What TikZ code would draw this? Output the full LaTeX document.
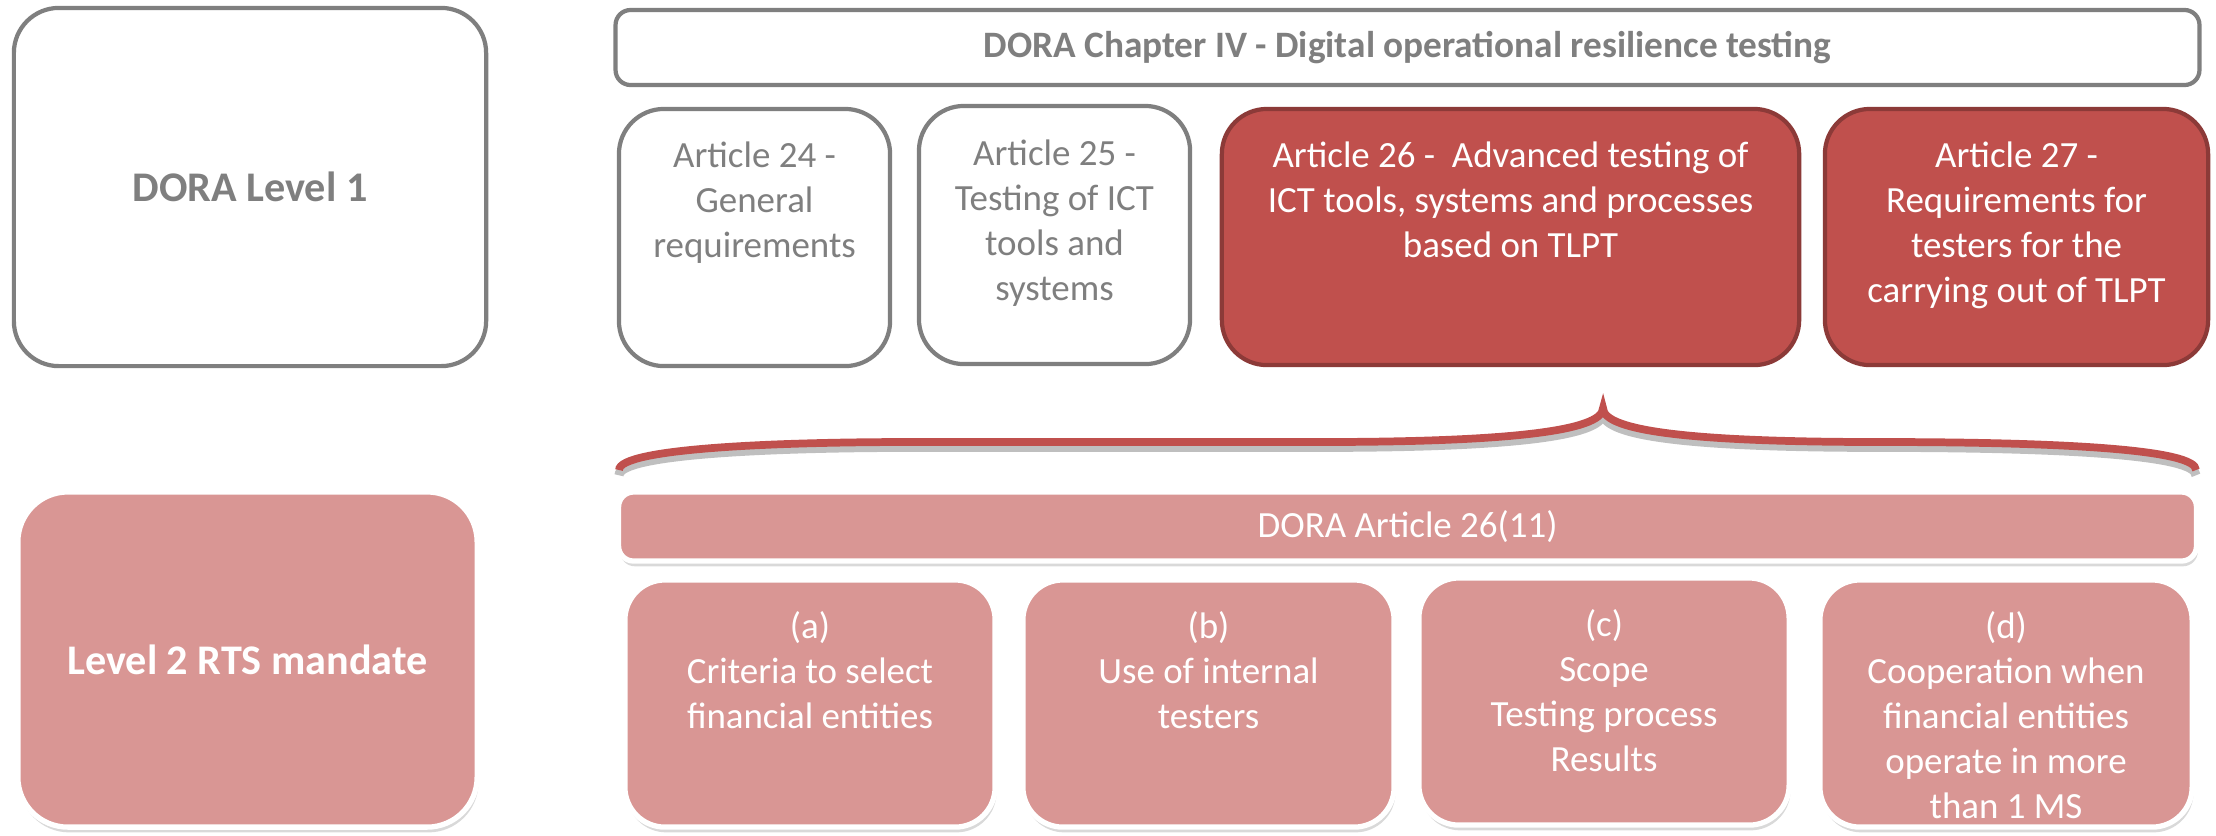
\documentclass[tikz,border=0pt]{standalone}
\usepackage{fontspec}
\setmainfont{Carlito}
\usetikzlibrary{positioning,shadows}
\definecolor{dgray}{HTML}{7F7F7F}
\definecolor{dred}{HTML}{C0504D}
\definecolor{dredline}{HTML}{8C3A38}
\definecolor{dpink}{HTML}{D99694}

\tikzset{
 graybox/.style={draw=dgray, line width=1.2pt, fill=white, rounded corners=0.45cm},
 redbox/.style={draw=dredline, line width=1.2pt, fill=dred, rounded corners=0.45cm},
 pinkbox/.style={draw=white, line width=1.5pt, fill=dpink, rounded corners=0.4cm,
   drop shadow={opacity=0.3, shadow xshift=0.4pt, shadow yshift=-1.5pt}},
 gtxt/.style={text=dgray, align=center, inner sep=0pt, font=\fontsize{10.5}{12.8}\selectfont},
 wtxt/.style={text=white, align=center, inner sep=0pt, font=\fontsize{10.5}{12.8}\selectfont}
}

\begin{document}
\begin{tikzpicture}[x=0.01cm,y=-0.01cm]
\useasboundingbox (0,0) rectangle (2216,835);

% level 1
\node[graybox, minimum width=4.72cm, minimum height=3.58cm] (lvl1) at (250,187) {};
\node[gtxt, font=\fontsize{12}{14}\selectfont\bfseries] at (lvl1) {DORA Level 1};

\node[graybox, rounded corners=0.15cm, minimum width=15.83cm, minimum height=0.75cm] (chap) at (1407.5,47.5) {};
\node[gtxt, font=\fontsize{10.6}{13}\selectfont\bfseries] at (chap) {DORA Chapter IV - Digital operational resilience testing};

\node[graybox, minimum width=2.71cm, minimum height=2.57cm] (art24) at (754.5,237.5) {};
\node[gtxt, below=0.34cm of art24.north] {Article 24 -\\General\\requirements};
\node[graybox, minimum width=2.71cm, minimum height=2.58cm] (art25) at (1054.5,235) {};
\node[gtxt, below=0.35cm of art25.north] {Article 25 -\\Testing of ICT\\tools and\\systems};
\node[redbox, minimum width=5.77cm, minimum height=2.56cm] (art26) at (1510.5,237) {};
\node[wtxt, below=0.34cm of art26.north] {Article 26 -~ Advanced testing of\\ICT tools, systems and processes\\based on TLPT};
\node[redbox, minimum width=3.83cm, minimum height=2.56cm] (art27) at (2016.5,237) {};
\node[wtxt, below=0.34cm of art27.north] {Article 27 -\\Requirements for\\testers for the\\carrying out of TLPT};

% brace
\coordinate (tip) at (1603,408);
\draw[dred, line width=2.2pt, preaction={draw=black, draw opacity=0.25, line width=2.6pt, transform canvas={yshift=-1.5pt}}]
 (619,470) .. controls (619,448) and (780,442) .. (910,442) -- (1320,442)
 .. controls (1500,442) and (1603,432) .. (tip)
 .. controls (1603,432) and (1700,442) .. (1880,442)
 .. controls (2070,442) and (2196,450) .. (2196,470);

% level 2
\node[pinkbox, minimum width=4.59cm, minimum height=3.35cm, rounded corners=0.5cm] (lvl2) at (247.5,659.5) {};
\node[wtxt, font=\fontsize{12}{14}\selectfont\bfseries] at (lvl2) {Level 2 RTS mandate};

\node[pinkbox, rounded corners=0.15cm, minimum width=15.77cm, minimum height=0.69cm] (art2611) at (1407.5,526.5) {};
\node[wtxt] at (art2611) {DORA Article 26(11)};

\node[pinkbox, minimum width=3.70cm, minimum height=2.47cm] (pa) at (810,703.5) {};
\node[wtxt, below=0.33cm of pa.north] {(a)\\Criteria to select\\financial entities};
\node[pinkbox, minimum width=3.71cm, minimum height=2.47cm] (pb) at (1208.5,703.5) {};
\node[wtxt, below=0.33cm of pb.north] {(b)\\Use of internal\\testers};
\node[pinkbox, minimum width=3.70cm, minimum height=2.47cm] (pc) at (1604,701.5) {};
\node[wtxt, below=0.33cm of pc.north] {(c)\\Scope\\Testing process\\Results};
\node[pinkbox, minimum width=3.72cm, minimum height=2.47cm] (pd) at (2006,703.5) {};
\node[wtxt, below=0.33cm of pd.north] {(d)\\Cooperation when\\financial entities\\operate in more\\than 1 MS};

\end{tikzpicture}
\end{document}
